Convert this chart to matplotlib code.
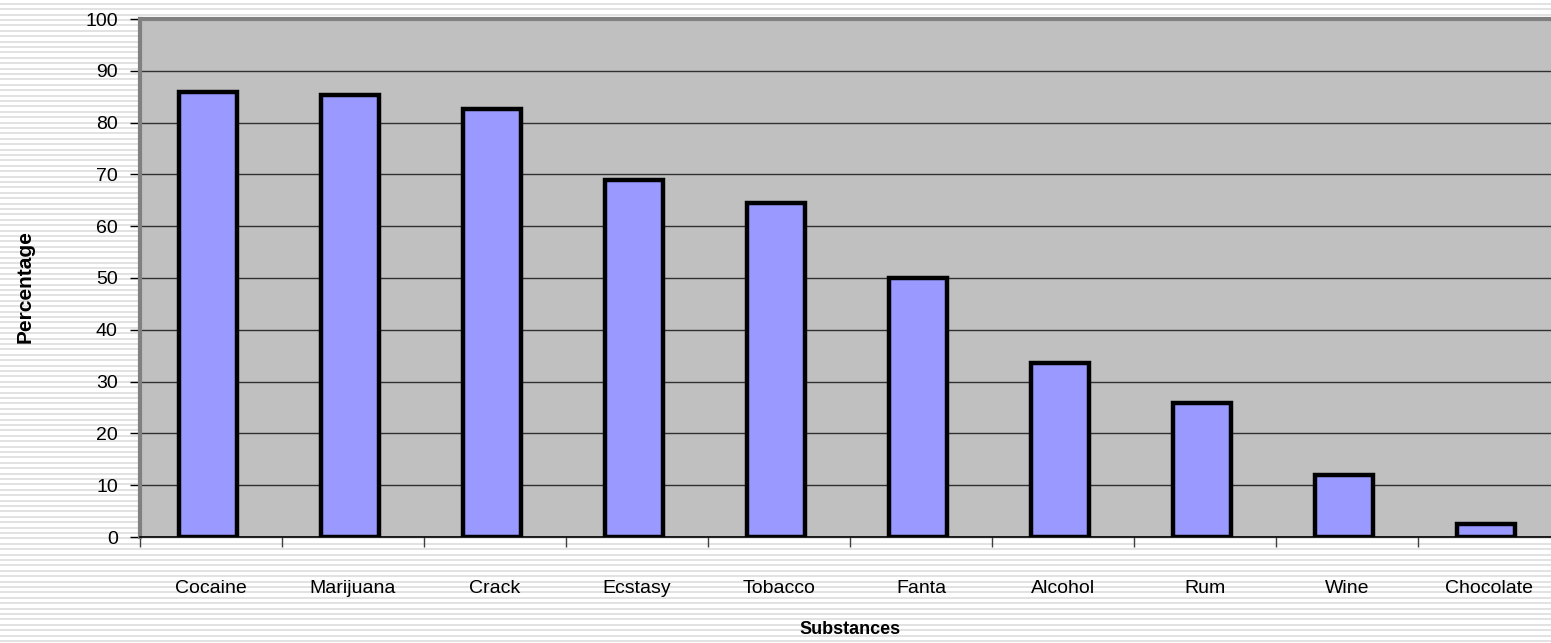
import matplotlib.pyplot as plt
import numpy as np

substances = ["Cocaine", "Marijuana", "Crack", "Ecstasy", "Tobacco",
              "Fanta", "Alcohol", "Rum", "Wine", "Chocolate"]
percentage = [86, 85.4, 82.7, 69, 64.5, 50, 33.6, 25.8, 12, 2.6]
y_ticks = [0, 10, 20, 30, 40, 50, 60, 70, 80, 90, 100]

plt.rcParams['font.family'] = ['Liberation Sans', 'DejaVu Sans']

fig = plt.figure(figsize=(15.51, 6.43), dpi=100)

# striped slide background
bg = fig.add_axes([0, 0, 1, 1])
bg.set_xlim(0, 1)
bg.set_ylim(0, 643)
for y in np.arange(2, 643, 5.4):
    bg.axhline(y, color='#e2e2e2', lw=1.4)
bg.axis('off')

ax = fig.add_axes([140 / 1551, 106 / 643, 1420 / 1551, 518 / 643])
ax.set_facecolor('#c0c0c0')
x = np.arange(len(substances))
ax.bar(x - 0.02, percentage, width=0.41, color='#9999ff', edgecolor='black',
       linewidth=3.2, zorder=3)

ax.set_xlim(-0.5, len(substances) - 0.5)
ax.set_ylim(0, 100)
ax.set_yticks(y_ticks)
ax.yaxis.grid(True, color='#303030', lw=1.0, zorder=1)
ax.set_axisbelow(True)

ax.set_xticks(x)
ax.set_xticklabels(substances)
ax.set_xticks(np.arange(-0.5, len(substances), 1), minor=True)
ax.tick_params(axis='x', which='major', length=0, pad=31, labelsize=14)
ax.tick_params(axis='x', which='minor', length=7, width=1, color='#404040')
ax.tick_params(axis='y', length=7, width=1, pad=9, labelsize=14)

for s in ['top', 'left']:
    ax.spines[s].set_color('#808080')
    ax.spines[s].set_linewidth(3)
ax.spines['right'].set_visible(False)
ax.spines['bottom'].set_color('black')
ax.spines['bottom'].set_linewidth(1.2)

fig.text(850 / 1551, 1 - 629 / 643, "Substances", ha='center', va='center',
         fontsize=13, fontweight='bold')
fig.text(25 / 1551, 1 - 287 / 643, "Percentage", ha='center', va='center',
         rotation=90, fontsize=15, fontweight='bold')

plt.savefig("out.png", dpi=100)
